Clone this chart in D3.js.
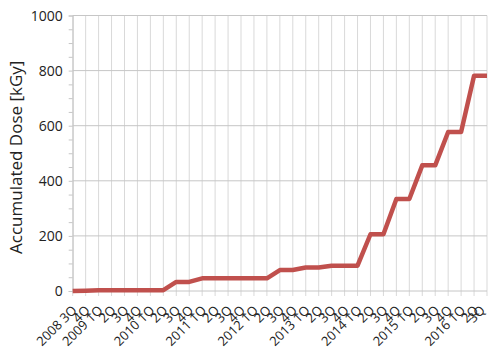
<!DOCTYPE html>
<html>
<head>
<meta charset="utf-8">
<script src="https://cdn.jsdelivr.net/npm/d3@7"></script>
<style>
  html, body { margin: 0; padding: 0; background: #fff; }
  svg { display: block; }
  text { font-family: "Open Sans", "Liberation Sans", sans-serif; fill: #222; }
</style>
</head>
<body>
<svg id="chart" width="491" height="353"></svg>
<script>
// Quarterly categories, 2008 3Q to 2016 3Q
const years    = ["2008","2008","2009","2009","2009","2009","2010","2010","2010","2010",
                  "2011","2011","2011","2011","2012","2012","2012","2012","2013","2013",
                  "2013","2013","2014","2014","2014","2014","2015","2015","2015","2015",
                  "2016","2016","2016"];
const quarters = ["3Q","4Q","1Q","2Q","3Q","4Q","1Q","2Q","3Q","4Q",
                  "1Q","2Q","3Q","4Q","1Q","2Q","3Q","4Q","1Q","2Q",
                  "3Q","4Q","1Q","2Q","3Q","4Q","1Q","2Q","3Q","4Q",
                  "1Q","2Q","3Q"];
// Accumulated dose in kGy at each quarter
const dose = [0, 1, 3, 3, 3, 3, 3, 3, 33, 33,
              46, 46, 46, 46, 46, 46, 76, 76, 85, 85,
              92, 92, 92, 206, 206, 334, 334, 456, 456, 577,
              577, 781, 781];
const yTicks = [0, 200, 400, 600, 800, 1000];
const yMinorTicks = d3.range(0, 1001, 50);

const categories = years.map((y, i) => y + " " + quarters[i]);
// Year is only printed on the first category and on each 1Q
const labelOf = i => (i === 0 || quarters[i] === "1Q") ? categories[i] : quarters[i];

const margin = { left: 72.7, right: 4, top: 15.5, bottom: 62 };
const W = 491, H = 353;
const svg = d3.select("#chart");

const x = d3.scalePoint().domain(d3.range(categories.length))
  .range([margin.left, W - margin.right]);
const y = d3.scaleLinear().domain([0, 1000]).range([H - margin.bottom, margin.top]);

// Vertical grid lines (one per category, reaching slightly below the baseline)
svg.append("g").selectAll("line").data(d3.range(categories.length)).join("line")
  .attr("x1", i => x(i)).attr("x2", i => x(i))
  .attr("y1", y(1000)).attr("y2", y(0) + 5)
  .attr("stroke", "#d9d9d9").attr("stroke-width", 1);

// Horizontal grid lines
svg.append("g").selectAll("line").data(yTicks).join("line")
  .attr("x1", margin.left).attr("x2", W - margin.right)
  .attr("y1", d => y(d)).attr("y2", d => y(d))
  .attr("stroke", "#c6c6c6").attr("stroke-width", 1);

// Y axis with minor tick marks
const yAxis = svg.append("g").attr("transform", `translate(${margin.left},0)`)
  .call(d3.axisLeft(y).tickValues(yMinorTicks).tickSize(4).tickFormat(""));
yAxis.select(".domain").attr("stroke", "#c6c6c6");
yAxis.selectAll(".tick line").attr("stroke", "#c6c6c6");

svg.append("g").selectAll("text").data(yTicks).join("text")
  .attr("x", margin.left - 10).attr("y", d => y(d)).attr("dy", "0.36em")
  .attr("text-anchor", "end").attr("font-size", 14)
  .text(d => d);

// X axis labels, rotated; the last one is kept inside the canvas
svg.append("g").selectAll("text").data(d3.range(categories.length)).join("text")
  .attr("transform", i => `translate(${Math.min(x(i) + 5, W - 5)},${y(0) + 20}) rotate(-45)`)
  .attr("text-anchor", "end").attr("font-size", 13)
  .text(i => labelOf(i));

// Y axis title
svg.append("text")
  .attr("transform", `translate(22,${(y(0) + y(1000)) / 2 + 4}) rotate(-90)`)
  .attr("text-anchor", "middle").attr("font-size", 17)
  .text("Accumulated Dose [kGy]");

// Dose line
const line = d3.line().x((d, i) => x(i)).y(d => y(d));
svg.append("path").datum(dose)
  .attr("d", line).attr("fill", "none")
  .attr("stroke", "#c0504d").attr("stroke-width", 4.5)
  .attr("stroke-linejoin", "round");
</script>
</body>
</html>
